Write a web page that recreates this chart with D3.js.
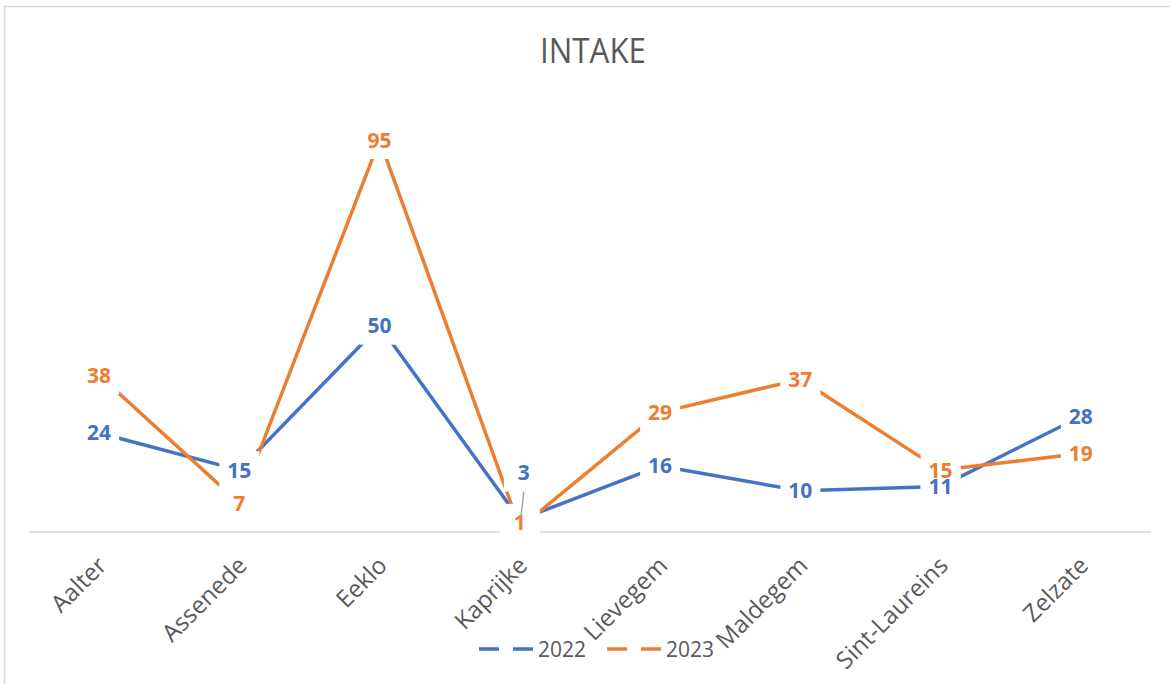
<!DOCTYPE html>
<html>
<head>
<meta charset="utf-8">
<script src="https://cdn.jsdelivr.net/npm/d3@7"></script>
<style>
  body { margin: 0; background: #fff; }
  svg text { font-family: "Open Sans", sans-serif; }
</style>
</head>
<body>
<div id="viz"></div>
<script>
// data
var categories = ["Aalter", "Assenede", "Eeklo", "Kaprijke", "Lievegem", "Maldegem", "Sint-Laureins", "Zelzate"];
var values2022 = [24, 15, 50, 3, 16, 10, 11, 28];
var values2023 = [38, 7, 95, 1, 29, 37, 15, 19];
var seriesNames = ["2022", "2023"];
var colors = ["#4472C4", "#ED7D31"];

var svg = d3.select("#viz")
    .append("svg")
    .attr("width", 1170)
    .attr("height", 684);

// chart border
svg.append("rect")
    .attr("x", 4.5).attr("y", 6.5)
    .attr("width", 1200).attr("height", 700)
    .attr("fill", "none")
    .attr("stroke", "#d9d9d9")
    .attr("stroke-width", 1.5);

svg.append("text")
    .attr("x", 593).attr("y", 63)
    .attr("text-anchor", "middle")
    .attr("font-size", 34)
    .attr("fill", "#595959")
    .attr("textLength", 106)
    .attr("lengthAdjust", "spacingAndGlyphs")
    .text("INTAKE");

var x = d3.scaleBand().domain(categories).range([29, 1151]);
var y = d3.scaleLinear().domain([0, 100]).range([532, 119.4]);
var cx = function(c){ return x(c) + x.bandwidth() / 2; };

// x axis line
svg.append("line")
    .attr("x1", 29).attr("x2", 1151)
    .attr("y1", y(0)).attr("y2", y(0))
    .attr("stroke", "#d9d9d9")
    .attr("stroke-width", 1.5);

// category labels, rotated
svg.append("g").selectAll("text")
    .data(categories)
    .enter()
    .append("text")
    .attr("transform", function(d){ return "translate(" + (cx(d) + 3) + ",561) rotate(-45)"; })
    .attr("text-anchor", "end")
    .attr("dy", "0.35em")
    .attr("font-size", 24)
    .attr("fill", "#595959")
    .text(function(d){ return d; });

var series = [values2022, values2023].map(function(vals, i){
    return {
        name: seriesNames[i],
        color: colors[i],
        points: vals.map(function(v, j){ return {cat: categories[j], v: v}; })
    };
});

var line = d3.line()
    .x(function(d){ return cx(d.cat); })
    .y(function(d){ return y(d.v); });

svg.selectAll("path.series")
    .data(series)
    .enter()
    .append("path")
    .attr("class", "series")
    .attr("d", function(d){ return line(d.points); })
    .attr("fill", "none")
    .attr("stroke", function(d){ return d.color; })
    .attr("stroke-width", 3.5)
    .attr("stroke-linejoin", "round")
    .attr("stroke-linecap", "round");

// data labels (white box, centred on the point)
var labels = [];
series.forEach(function(s){
    s.points.forEach(function(p){
        labels.push({color: s.color, cat: p.cat, v: p.v, series: s.name});
    });
});

function labelPos(d){
    var px = cx(d.cat), py = y(d.v);
    // Kaprijke 2022 label was pushed up above the crowded point
    if (d.series == "2022" && d.cat == "Kaprijke") { px += 4; py -= 47; }
    if (d.series == "2023" && d.cat == "Kaprijke") { py -= 5; }
    return [px, py];
}

var boxLayer = svg.append("g");
var textLayer = svg.append("g");

var texts = textLayer.selectAll("text")
    .data(labels)
    .enter()
    .append("text")
    .attr("x", function(d){ return labelPos(d)[0]; })
    .attr("y", function(d){ return labelPos(d)[1] + 7.5; })
    .attr("text-anchor", "middle")
    .attr("font-size", 21)
    .attr("font-weight", "bold")
    .attr("fill", function(d){ return d.color; })
    .text(function(d){ return d.v; });

texts.each(function(d){
    var w = this.getBBox().width;
    var hw = Math.max(w / 2 + 8, 20);
    var p = labelPos(d);
    boxLayer.append("rect")
        .attr("x", p[0] - hw).attr("y", p[1] - 19)
        .attr("width", hw * 2).attr("height", 38)
        .attr("fill", "#fff");
});

// leader line for the moved label
svg.append("line")
    .attr("x1", cx("Kaprijke") + 4).attr("y1", y(3) - 28)
    .attr("x2", cx("Kaprijke") + 1).attr("y2", y(3) - 2)
    .attr("stroke", "#a6a6a6")
    .attr("stroke-width", 1.5);

// legend
var legend = svg.append("g").selectAll("g")
    .data(series)
    .enter()
    .append("g")
    .attr("transform", function(d, i){ return "translate(" + (479 + i * 128) + ",649)"; });

legend.append("line")
    .attr("x1", 0).attr("x2", 54)
    .attr("stroke", function(d){ return d.color; })
    .attr("stroke-width", 3.5)
    .attr("stroke-dasharray", "20,14");

legend.append("text")
    .attr("x", 59).attr("y", 7.5)
    .attr("font-size", 21)
    .attr("fill", "#595959")
    .text(function(d){ return d.name; });
</script>
</body>
</html>
